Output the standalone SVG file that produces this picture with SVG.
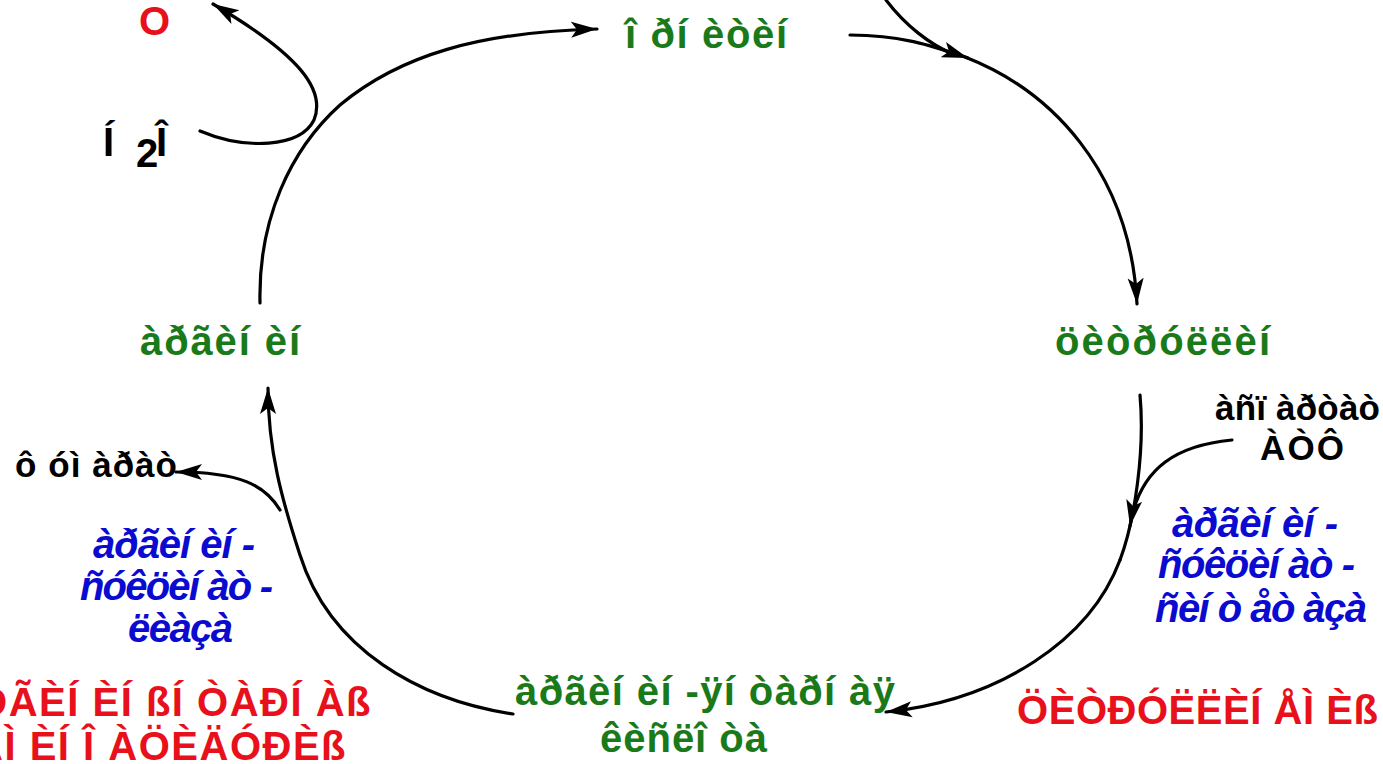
<svg xmlns="http://www.w3.org/2000/svg" width="1383" height="764" viewBox="0 0 1383 764">
<defs>
<style>
text{font-family:"Liberation Sans",Arial,sans-serif;font-weight:bold;font-size:40px}
.g{fill:#1a7a1a}
.r{fill:#e8101a}
.k{fill:#000}
.s{font-size:35px}
.b{fill:#0a0ad0;font-style:italic}
.c{fill:none;stroke:#000;stroke-width:3.2;stroke-linecap:round}
.a{marker-end:url(#ah)}
</style>
<marker id="ah" markerUnits="userSpaceOnUse" markerWidth="28" markerHeight="18" refX="26" refY="9" orient="auto" viewBox="0 0 28 18">
<path d="M0,1 L26,9 L0,17 L6,9 z" fill="#000"/>
</marker>
</defs>
<rect width="1383" height="764" fill="#fff"/>
<g id="connectors">
<path class="c a" d="M260,303 C258,220 290,150 340,105 C400,55 480,32 597,29"/>
<path class="c a" d="M200,131 C245,150 300,148 314,120 C326,90 300,55 213,4"/>
<path class="c a" d="M850,35 C900,35 930,45 968,58"/>
<path class="c" d="M886,0 C905,25 930,45 955,55"/>
<path class="c a" d="M965,57 C1050,90 1130,170 1137,304"/>
<path class="c" d="M1140,395 C1145,450 1135,520 1120,560"/>
<path class="c a" d="M1232,440 C1180,445 1140,465 1130,526"/>
<path class="c a" d="M1120,560 C1090,640 1000,700 886,712"/>
<path class="c a" d="M513,714 C420,700 330,650 300,555 C282,500 268,450 268,388"/>
<path class="c a" d="M280,510 C265,485 240,472 176,472"/>
</g>
<g id="n-o"><text class="r" x="139" y="35" font-size="44" textLength="34">O</text></g>
<g id="n-h2o">
<text class="k" x="103" y="156" font-size="38">Í</text>
<text class="k" x="136" y="167" font-size="27">2</text>
<text class="k" x="156" y="156" font-size="38">Î</text>
</g>
<g id="n-ornitin"><text class="g" x="625" y="48" textLength="162">î ðí èòèí</text></g>
<g id="n-arginin"><text class="g" x="140" y="355" textLength="160">àðãèí èí</text></g>
<g id="n-citrullin"><text class="g" x="1055" y="355" textLength="215">öèòðóëëèí</text></g>
<g id="n-aspartat">
<text class="k s" x="1215" y="420" textLength="165">àñï àðòàò</text>
<text class="k s" x="1260" y="460" textLength="84">ÀÒÔ</text>
</g>
<g id="n-fumarat"><text class="k s" x="15" y="477" textLength="162">ô óì àðàò</text></g>
<g id="n-liaza">
<text class="b" x="93" y="558" textLength="162">àðãèí èí -</text>
<text class="b" x="80" y="600" textLength="193">ñóêöèí àò -</text>
<text class="b" x="128" y="642" textLength="105">ëèàçà</text>
</g>
<g id="n-sintetaza">
<text class="b" x="1172" y="537" textLength="166">àðãèí èí -</text>
<text class="b" x="1158" y="578" textLength="197">ñóêöèí àò -</text>
<text class="b" x="1155" y="622" textLength="212">ñèí ò åò àçà</text>
</g>
<g id="n-asa">
<text class="g" x="515" y="705" textLength="380">àðãèí èí -ÿí òàðí àÿ</text>
<text class="g" x="600" y="752" textLength="167">êèñëî òà</text>
</g>
<g id="n-asa-uria">
<text class="r" x="372" y="716" text-anchor="end" letter-spacing="1.5">ÀÐÃÈÍ ÈÍ ßÍ ÒÀÐÍ Àß</text>
<text class="r" x="347" y="760" text-anchor="end" letter-spacing="1.5">ÀÌ ÈÍ Î ÀÖÈÄÓÐÈß</text>
</g>
<g id="n-citrullinemia"><text class="r" x="1017" y="724" textLength="361">ÖÈÒÐÓËËÈÍ ÅÌ Èß</text></g>
</svg>
